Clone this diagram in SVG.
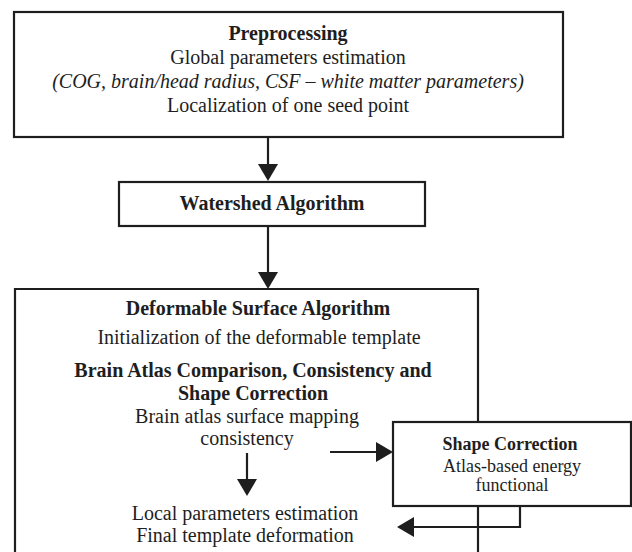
<svg xmlns="http://www.w3.org/2000/svg" width="632" height="552" viewBox="0 0 632 552">
<style>
  .box { fill: #ffffff; stroke: #1e1e1e; stroke-width: 2.2; }
  .edge { fill: none; stroke: #1e1e1e; stroke-width: 2.2; }
  text { font-family: "Liberation Serif", "Times New Roman", serif; font-size: 20px; fill: #1e1e1e; text-anchor: middle; }
  .b { font-weight: bold; }
  .i { font-style: italic; }
  .s { font-size: 18px; }
</style>
<defs>
  <marker id="ah" viewBox="0 0 17 20" refX="0" refY="10" markerWidth="17" markerHeight="20" markerUnits="userSpaceOnUse" orient="auto">
    <path d="M0,0 L17,10 L0,20 Z" fill="#1e1e1e"/>
  </marker>
</defs>

<g id="preprocessing">
  <rect class="box" x="14" y="12" width="549" height="125"/>
  <text class="b" x="288" y="40">Preprocessing</text>
  <text x="288" y="64">Global parameters estimation</text>
  <text class="i" x="288" y="88">(COG, brain/head radius, CSF – white matter parameters)</text>
  <text x="288" y="112">Localization of one seed point</text>
</g>

<g id="watershed">
  <rect class="box" x="119" y="182" width="306" height="44"/>
  <text class="b" x="272" y="210">Watershed Algorithm</text>
</g>

<g id="deformable">
  <path class="edge" d="M15,553 V289 H478 V553"/>
  <text class="b" x="258" y="315">Deformable Surface Algorithm</text>
  <text x="259" y="344">Initialization of the deformable template</text>
  <text class="b" x="253" y="377">Brain Atlas Comparison, Consistency and</text>
  <text class="b" x="253" y="400">Shape Correction</text>
  <text x="247" y="423">Brain atlas surface mapping</text>
  <text x="247" y="445">consistency</text>
  <text x="245" y="520">Local parameters estimation</text>
  <text x="245" y="542">Final template deformation</text>
</g>

<g id="shape-correction">
  <rect class="box" x="393" y="422" width="238" height="84"/>
  <text class="b s" x="510" y="450">Shape Correction</text>
  <text class="s" x="512" y="472">Atlas-based energy</text>
  <text class="s" x="512" y="491">functional</text>
</g>

<g id="connectors">
  <path class="edge" d="M268,137 V164" marker-end="url(#ah)"/>
  <path class="edge" d="M268,226 V272" marker-end="url(#ah)"/>
  <path class="edge" d="M247,453 V479" marker-end="url(#ah)"/>
  <path class="edge" d="M330,452 H376" marker-end="url(#ah)"/>
  <path class="edge" d="M520,506 V527 H414" marker-end="url(#ah)"/>
</g>
</svg>
